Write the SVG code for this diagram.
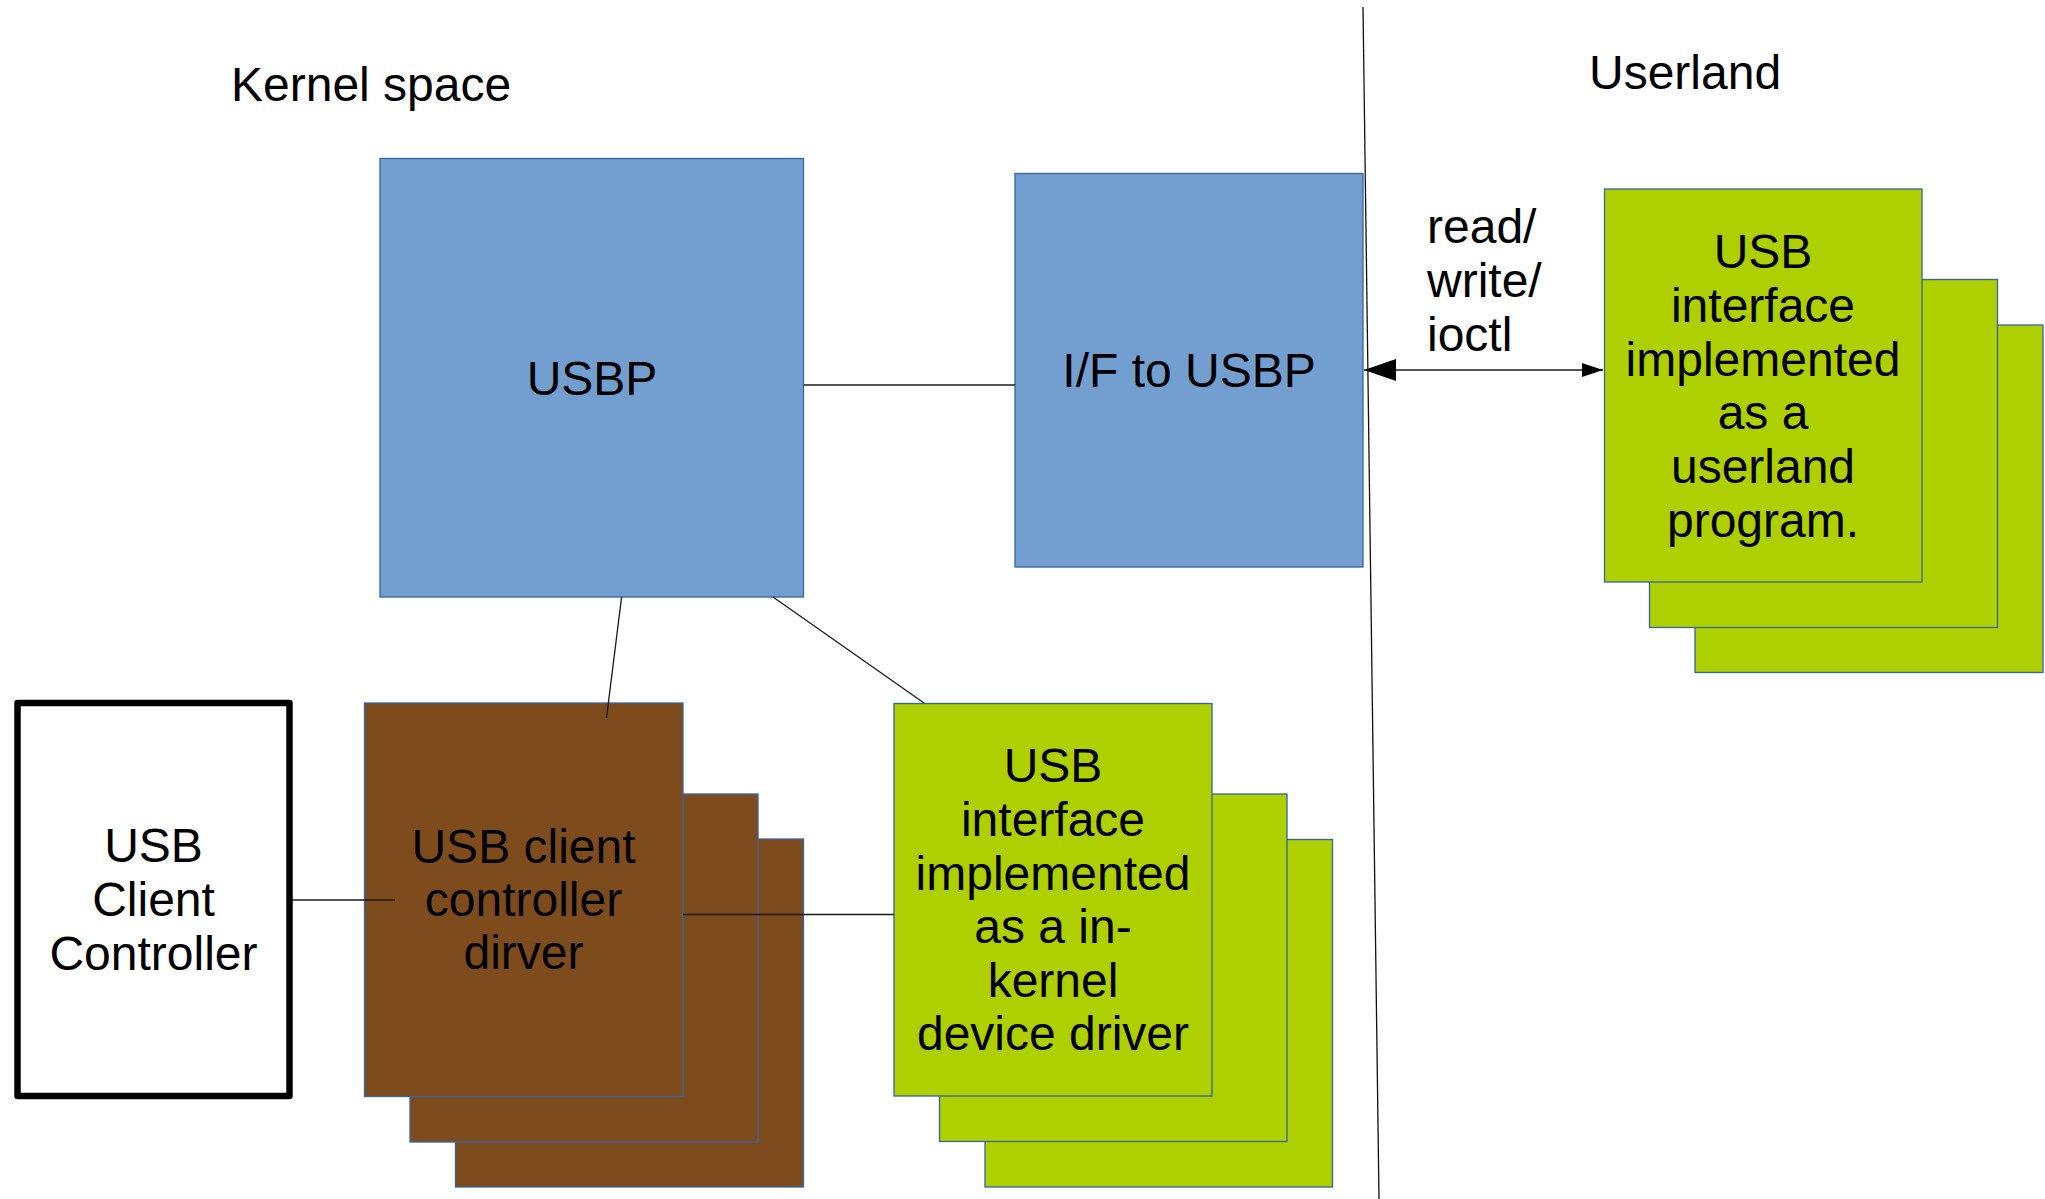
<svg xmlns="http://www.w3.org/2000/svg" width="2045" height="1199" viewBox="0 0 2045 1199">
  <style>
    .lbl { font-family: "Liberation Sans", Arial, sans-serif; font-size: 48px; fill: #000; }
    .mid { text-anchor: middle; }
    .blue { fill: #729fcf; stroke: #3465a4; stroke-width: 1.3; }
    .green { fill: #aecf00; stroke: #3465a4; stroke-width: 1.3; }
    .brown { fill: #7e4b1c; stroke: #3465a4; stroke-width: 1.3; }
    .wire { stroke: #1a1a1a; stroke-width: 1.3; fill: none; }
  </style>
  <defs>
    <marker id="headBig" viewBox="0 0 32 22" markerWidth="32" markerHeight="22" refX="32" refY="11" orient="auto-start-reverse" markerUnits="userSpaceOnUse">
      <path d="M0,0 L32,11 L0,22 z" fill="#000"/>
    </marker>
    <marker id="headSmall" viewBox="0 0 21 14" markerWidth="21" markerHeight="14" refX="21" refY="7" orient="auto" markerUnits="userSpaceOnUse">
      <path d="M0,0 L21,7 L0,14 z" fill="#000"/>
    </marker>
  </defs>

  <rect width="2045" height="1199" fill="#fff"/>

  <!-- section titles -->
  <text class="lbl" x="231" y="101">Kernel space</text>
  <text class="lbl" x="1589" y="89">Userland</text>

  <!-- kernel / userland boundary -->
  <line x1="1363" y1="7" x2="1379" y2="1199" stroke="#111" stroke-width="1.3"/>

  <text class="lbl" x="1427" y="243">read/<tspan x="1427" y="297">write/</tspan><tspan x="1427" y="351">ioctl</tspan></text>

  <!-- USBP core -->
  <g id="usbp">
    <rect class="blue" x="380" y="158.5" width="423.5" height="438.5"/>
    <text class="lbl mid" x="592" y="395">USBP</text>
  </g>

  <!-- interface to USBP -->
  <g id="if-usbp">
    <rect class="blue" x="1015" y="173.5" width="348" height="393.5"/>
    <text class="lbl mid" x="1189" y="387">I/F to USBP</text>
  </g>

  <!-- hardware controller -->
  <g id="usb-client-controller">
    <rect x="17.5" y="703" width="272" height="393" fill="#fff" stroke="#000" stroke-width="6.5" stroke-linejoin="round"/>
    <text class="lbl mid" x="153.5" y="862">USB<tspan x="153.5" y="916">Client</tspan><tspan x="153.5" y="969.5">Controller</tspan></text>
  </g>

  <!-- client controller drivers (stack) -->
  <g id="client-controller-driver">
    <rect class="brown" x="455.5" y="839" width="348" height="348"/>
    <rect class="brown" x="410" y="794" width="348" height="348"/>
    <rect class="brown" x="364.5" y="703" width="318.5" height="393.5"/>
    <text class="lbl mid" x="523.5" y="862.5">USB client<tspan x="523.5" y="916">controller</tspan><tspan x="523.5" y="969">dirver</tspan></text>
  </g>

  <!-- in-kernel interface drivers (stack) -->
  <g id="in-kernel-driver">
    <rect class="green" x="985" y="839.5" width="347.5" height="347.5"/>
    <rect class="green" x="939.5" y="794" width="347.5" height="347.5"/>
    <rect class="green" x="894" y="703.5" width="318" height="392.5"/>
    <text class="lbl mid" x="1053" y="782">USB<tspan x="1053" y="836">interface</tspan><tspan x="1053" y="889.5">implemented</tspan><tspan x="1053" y="943">as a in-</tspan><tspan x="1053" y="997">kernel</tspan><tspan x="1053" y="1050">device driver</tspan></text>
  </g>

  <!-- userland interface programs (stack) -->
  <g id="userland-program">
    <rect class="green" x="1695" y="325" width="348" height="347.5"/>
    <rect class="green" x="1649.5" y="279.5" width="348" height="348"/>
    <rect class="green" x="1604.5" y="189" width="317.5" height="393"/>
    <text class="lbl mid" x="1763" y="268">USB<tspan x="1763" y="322">interface</tspan><tspan x="1763" y="375.5">implemented</tspan><tspan x="1763" y="429">as a</tspan><tspan x="1763" y="483">userland</tspan><tspan x="1763" y="537">program.</tspan></text>
  </g>

  <!-- connectors, drawn over the boxes -->
  <g id="connectors">
    <line class="wire" x1="804" y1="385" x2="1015" y2="385"/>
    <line class="wire" x1="621.6" y1="597" x2="606.5" y2="718"/>
    <line class="wire" x1="773" y1="597" x2="924" y2="703"/>
    <line class="wire" x1="292" y1="900" x2="395" y2="900"/>
    <line class="wire" x1="683" y1="914.5" x2="894" y2="914.5"/>
    <line class="wire" x1="1364" y1="370" x2="1603" y2="370" marker-start="url(#headBig)" marker-end="url(#headSmall)"/>
  </g>
</svg>
